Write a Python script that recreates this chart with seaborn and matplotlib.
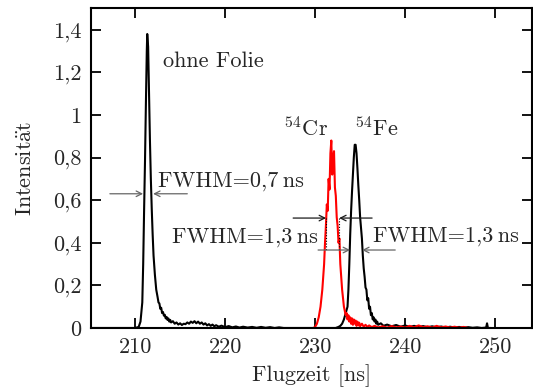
import matplotlib
matplotlib.use("Agg")
import matplotlib.pyplot as plt
import seaborn as sns
import pandas as pd

# --- time-of-flight spectra (Flugzeit in ns, normalised intensity) ---
t_ohne = [205.2, 210.0, 210.4, 210.6, 210.8, 210.9, 211.0, 211.1, 211.2, 211.3, 211.35,
          211.45, 211.55, 211.65, 211.75, 211.85, 211.95, 212.05, 212.2, 212.35, 212.5,
          212.6, 212.7, 212.8, 212.9, 213.0, 213.1, 213.2, 213.3, 213.4, 213.5, 213.6,
          213.7, 213.8, 213.9, 214.0, 214.2, 214.4, 214.6, 214.8, 215.0, 215.2, 215.4,
          215.6, 215.8, 216.0, 216.2, 216.4, 216.6, 216.8, 217.0, 217.2, 217.4, 217.6,
          217.8, 218.0, 218.2, 218.4, 218.6, 218.8, 219.0, 219.3, 219.6, 220.0, 220.4,
          220.8, 221.2, 221.6, 222.0, 222.5, 223.0, 223.5, 224.0, 224.5, 225.0, 225.5,
          226.0, 226.5, 233.0]
i_ohne = [0.0, 0.0, 0.005, 0.03, 0.12, 0.30, 0.55, 0.78, 1.05, 1.30, 1.38,
          1.32, 1.10, 0.88, 0.70, 0.56, 0.44, 0.34, 0.25, 0.18, 0.145,
          0.12, 0.115, 0.09, 0.095, 0.07, 0.075, 0.058, 0.062, 0.045, 0.052, 0.038,
          0.045, 0.03, 0.038, 0.026, 0.032, 0.02, 0.026, 0.016, 0.022, 0.014, 0.02,
          0.018, 0.026, 0.02, 0.03, 0.024, 0.032, 0.022, 0.03, 0.02, 0.026, 0.016,
          0.022, 0.012, 0.018, 0.01, 0.016, 0.008, 0.013, 0.006, 0.011, 0.004, 0.009,
          0.003, 0.007, 0.002, 0.006, 0.002, 0.005, 0.001, 0.005, 0.001, 0.004, 0.0,
          0.003, 0.0, 0.0]

t_cr = [229.8, 230.0, 230.2, 230.4, 230.6, 230.8, 231.0, 231.1, 231.2, 231.3, 231.4,
        231.5, 231.6, 231.7, 231.8, 231.9, 232.0, 232.1, 232.2, 232.3, 232.4, 232.5,
        232.6, 232.7, 232.8, 232.9, 233.0, 233.1, 233.2, 233.3, 233.4, 233.5, 233.6,
        233.7, 233.8, 233.9, 234.0, 234.1, 234.2, 234.3, 234.4, 234.5, 234.6, 234.7,
        234.8, 234.9, 235.0, 235.2, 235.4, 235.6, 235.8, 236.0, 236.3, 236.6, 237.0,
        237.5, 238.0, 238.5, 239.0, 239.5, 240.0, 240.5, 241.0, 241.5, 242.0, 242.5,
        243.0, 243.5, 244.0, 244.5, 245.0, 245.5, 246.0, 246.5, 247.0]
i_cr = [0.0, 0.005, 0.02, 0.05, 0.10, 0.18, 0.30, 0.40, 0.48, 0.58, 0.55,
        0.70, 0.65, 0.82, 0.88, 0.72, 0.80, 0.83, 0.66, 0.62, 0.52, 0.48,
        0.40, 0.42, 0.30, 0.24, 0.18, 0.14, 0.10, 0.08, 0.06, 0.07, 0.04,
        0.06, 0.03, 0.05, 0.02, 0.045, 0.015, 0.04, 0.02, 0.035, 0.01, 0.03,
        0.012, 0.025, 0.008, 0.02, 0.006, 0.015, 0.005, 0.012, 0.004, 0.01, 0.003,
        0.008, 0.002, 0.009, 0.003, 0.007, 0.002, 0.01, 0.003, 0.012, 0.004, 0.008,
        0.002, 0.01, 0.003, 0.007, 0.002, 0.006, 0.001, 0.005, 0.0]

t_fe = [232.3, 232.6, 232.8, 233.0, 233.2, 233.4, 233.6, 233.7, 233.8, 233.9, 234.0,
        234.1, 234.2, 234.3, 234.4, 234.5, 234.6, 234.7, 234.8, 234.9, 235.0, 235.1,
        235.2, 235.3, 235.4, 235.5, 235.6, 235.7, 235.8, 235.9, 236.0, 236.1, 236.2,
        236.3, 236.4, 236.5, 236.6, 236.7, 236.8, 236.9, 237.0, 237.3, 237.6, 238.0,
        238.5, 239.0, 239.5, 240.0, 240.5, 241.0, 241.5, 242.0, 242.5, 243.0, 243.5,
        244.0, 244.5, 245.0, 245.5, 246.0, 246.5, 247.0, 247.5, 248.0, 248.5, 249.0,
        249.1, 249.2, 249.5]
i_fe = [0.0, 0.005, 0.01, 0.02, 0.04, 0.07, 0.10, 0.18, 0.30, 0.44, 0.55,
        0.64, 0.72, 0.80, 0.86, 0.86, 0.82, 0.75, 0.67, 0.60, 0.52, 0.47,
        0.42, 0.34, 0.28, 0.24, 0.19, 0.18, 0.13, 0.14, 0.09, 0.10, 0.06,
        0.07, 0.04, 0.05, 0.03, 0.04, 0.02, 0.03, 0.015, 0.022, 0.01, 0.016,
        0.008, 0.014, 0.006, 0.012, 0.005, 0.01, 0.004, 0.009, 0.003, 0.008, 0.003,
        0.007, 0.002, 0.006, 0.002, 0.005, 0.001, 0.004, 0.001, 0.003, 0.0, 0.002,
        0.022, 0.0, 0.0]

x_ticks = [210, 220, 230, 240, 250]
y_ticks = [0, 0.2, 0.4, 0.6, 0.8, 1.0, 1.2, 1.4]
y_tick_labels = ["0", "0,2", "0,4", "0,6", "0,8", "1", "1,2", "1,4"]

sns.set_style("ticks")
plt.rcParams["font.family"] = ["cmr10", "DejaVu Serif"]
plt.rcParams["mathtext.fontset"] = "cm"
plt.rcParams["axes.unicode_minus"] = False
plt.rcParams["axes.formatter.use_mathtext"] = True

fs = 16
fig = plt.figure(figsize=(5.33, 3.9), dpi=100)
ax = fig.add_axes([0.1707, 0.159, 0.8275, 0.8205])

df_ohne = pd.DataFrame({"t": t_ohne, "I": i_ohne})
df_cr = pd.DataFrame({"t": t_cr, "I": i_cr})
df_fe = pd.DataFrame({"t": t_fe, "I": i_fe})

lw = 1.5
sns.lineplot(data=df_ohne, x="t", y="I", ax=ax, color="black", linewidth=lw,
             estimator=None, sort=False)
sns.lineplot(data=df_fe, x="t", y="I", ax=ax, color="black", linewidth=lw,
             estimator=None, sort=False)
sns.lineplot(data=df_cr, x="t", y="I", ax=ax, color="#ff0000", linewidth=lw,
             estimator=None, sort=False)

ax.set_xlim(205.1, 254.1)
ax.set_ylim(0, 1.502)
ax.set_xticks(x_ticks)
ax.set_xticklabels([str(v) for v in x_ticks], fontsize=fs)
ax.set_yticks(y_ticks)
ax.set_yticklabels(y_tick_labels, fontsize=fs)
ax.tick_params(direction="in", length=7.5, width=1.3, top=True, right=True,
               labeltop=False, labelright=False, pad=7, color="black")
for sp in ax.spines.values():
    sp.set_linewidth(1.5)
    sp.set_color("black")

ax.set_xlabel("Flugzeit [ns]", fontsize=fs, labelpad=5)
ax.set_ylabel(r"Intensit$\ddot{\rm a}$t", fontsize=fs, labelpad=13)

# annotations
ax.text(213.1, 1.25, "ohne Folie", fontsize=fs, va="center", ha="left")
ax.text(226.5, 0.94, r"$^{54}$Cr", fontsize=fs, va="center", ha="left")
ax.text(234.4, 0.94, r"$^{54}$Fe", fontsize=fs, va="center", ha="left")
ax.text(212.55, 0.69, "FWHM=0,7\u2009ns", fontsize=fs, va="center", ha="left",
        family=["cmr10", "DejaVu Serif"])
ax.text(214.1, 0.427, "FWHM=1,3\u2009ns", fontsize=fs, va="center", ha="left",
        family=["cmr10", "DejaVu Serif"])
ax.text(236.45, 0.43, "FWHM=1,3\u2009ns", fontsize=fs, va="center", ha="left",
        family=["cmr10", "DejaVu Serif"])

gray = dict(arrowstyle="->", lw=0.9, color="0.4", shrinkA=0, shrinkB=0)
dark = dict(arrowstyle="->", lw=0.9, color="0.1", shrinkA=0, shrinkB=0)

# first peak width markers
ax.annotate("", xy=(210.89, 0.63), xytext=(207.2, 0.63), arrowprops=gray)
ax.annotate("", xy=(212.0, 0.63), xytext=(215.8, 0.63), arrowprops=gray)
# 54Cr width markers
ax.annotate("", xy=(231.22, 0.516), xytext=(227.56, 0.516), arrowprops=dark)
ax.annotate("", xy=(232.67, 0.516), xytext=(236.33, 0.516), arrowprops=dark)
ax.plot([231.22, 231.22], [0.516, 0.366], color="black", lw=0.8, ls=(0, (1, 1.5)))
ax.plot([232.67, 232.67], [0.516, 0.366], color="black", lw=0.8, ls=(0, (1, 1.5)))
# 54Fe width markers
ax.annotate("", xy=(233.89, 0.366), xytext=(230.33, 0.366), arrowprops=gray)
ax.annotate("", xy=(235.22, 0.366), xytext=(238.9, 0.366), arrowprops=gray)

fig.savefig("out.png", dpi=100)
